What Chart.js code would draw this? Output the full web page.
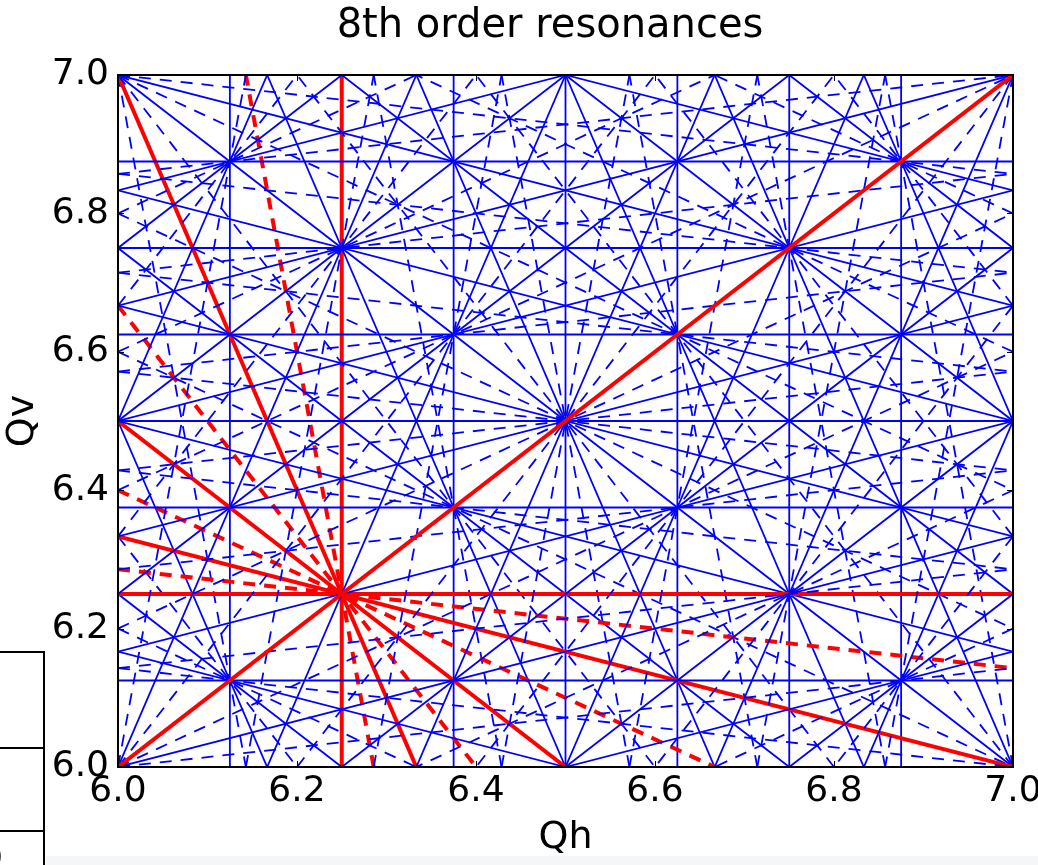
<!DOCTYPE html>
<html>
<head>
<meta charset="utf-8">
<title>8th order resonances</title>
<script src="https://cdn.jsdelivr.net/npm/chart.js@4.4.1/dist/chart.umd.min.js"></script>
<style>
  body { margin: 0; background: #fff; font-family: "DejaVu Sans", sans-serif; }
  #wrap { position: relative; width: 1038px; height: 865px; overflow: hidden; }
  #title { position: absolute; top: 3px; left: 550px; transform: translateX(-50%);
           font-size: 40px; line-height: 40px; white-space: nowrap; color: #000; }
  .rule { position: absolute; background: #000; }
  #paren { position: absolute; left: -9px; top: 836px; font-size: 32px; color: #000; }
  #band { position: absolute; left: 46px; top: 856px; width: 992px; height: 9px; background: #f5f6f8; }
</style>
</head>
<body>
<div id="wrap">
  <canvas id="myChart"></canvas>
  <div id="title">8th order resonances</div>
  <div class="rule" style="left:0;top:651px;width:45px;height:2px"></div>
  <div class="rule" style="left:0;top:747px;width:45px;height:2px"></div>
  <div class="rule" style="left:0;top:830px;width:45px;height:2px"></div>
  <div class="rule" style="left:43px;top:651px;width:2px;height:214px"></div>
  <div id="paren">)</div>
  <div id="band"></div>
</div>
<script>
// tune window
var qhLimits = [6.0, 7.0];
var qvLimits = [6.0, 7.0];

// resonance m*Qh + n*Qv = p with |m|+|n| = 8
var coeffH = [4, 1, 2, 3, 5, 6, 7, 0, 1, 2, 3, 4, 5, 6, 7, 8];
var coeffV = [-4, -7, -6, -5, -3, -2, -1, 8, 7, 6, 5, 4, 3, 2, 1, 0];

// lines drawn in red
var redH = [8, 0, 4, 4, 6, 2, 7, 1, 5, 3];
var redV = [0, 8, 4, -4, 2, 6, 1, 7, 3, 5];
var redP = [50, 50, 50, 0, 50, 50, 50, 50, 50, 50];

var tickValues = [6.0, 6.2, 6.4, 6.6, 6.8, 7.0];

function isRed(m, n, p) {
  for (var i = 0; i < redH.length; i++) {
    if (redH[i] === m && redV[i] === n && redP[i] === p) return true;
  }
  return false;
}

// where the line m*x + n*y = p crosses the tune box
function clipLine(m, n, p) {
  var pts = [];
  var eps = 1e-9;
  function add(x, y) {
    if (x < qhLimits[0] - eps || x > qhLimits[1] + eps) return;
    if (y < qvLimits[0] - eps || y > qvLimits[1] + eps) return;
    for (var k = 0; k < pts.length; k++) {
      if (Math.abs(pts[k].x - x) < 1e-7 && Math.abs(pts[k].y - y) < 1e-7) return;
    }
    pts.push({x: x, y: y});
  }
  if (n !== 0) {
    add(qhLimits[0], (p - m * qhLimits[0]) / n);
    add(qhLimits[1], (p - m * qhLimits[1]) / n);
  }
  if (m !== 0) {
    add((p - n * qvLimits[0]) / m, qvLimits[0]);
    add((p - n * qvLimits[1]) / m, qvLimits[1]);
  }
  return pts.length >= 2 ? pts.slice(0, 2) : null;
}

var datasets = [];
for (var i = 0; i < coeffH.length; i++) {
  var m = coeffH[i], n = coeffV[i];
  var corners = [
    m * qhLimits[0] + n * qvLimits[0], m * qhLimits[1] + n * qvLimits[0],
    m * qhLimits[0] + n * qvLimits[1], m * qhLimits[1] + n * qvLimits[1]
  ];
  var pLo = Math.ceil(Math.min.apply(null, corners) - 1e-9);
  var pHi = Math.floor(Math.max.apply(null, corners) + 1e-9);
  for (var p = pLo; p <= pHi; p++) {
    var seg = clipLine(m, n, p);
    if (!seg) continue;
    var red = isRed(m, n, p);
    datasets.push({
      data: seg,
      showLine: true,
      borderColor: red ? '#ff0000' : '#0000ff',
      borderWidth: red ? 4 : 1.8,
      borderDash: (Math.abs(n) % 2 === 1) ? [12, 9] : [],
      pointRadius: 0,
      fill: false
    });
  }
}

var frameTicks = {
  id: 'frameTicks',
  afterDatasetsDraw: function(chart) {
    var ctx = chart.ctx, a = chart.chartArea;
    var xs = chart.scales.x, ys = chart.scales.y;
    ctx.save();
    ctx.strokeStyle = '#000';
    ctx.lineWidth = 1;
    ctx.beginPath();
    tickValues.forEach(function(v) {
      var px = Math.round(xs.getPixelForValue(v)) + 0.5;
      ctx.moveTo(px, a.bottom); ctx.lineTo(px, a.bottom - 6);
      ctx.moveTo(px, a.top); ctx.lineTo(px, a.top + 6);
      var py = Math.round(ys.getPixelForValue(v)) + 0.5;
      ctx.moveTo(a.left, py); ctx.lineTo(a.left + 6, py);
      ctx.moveTo(a.right, py); ctx.lineTo(a.right - 6, py);
    });
    ctx.stroke();
    ctx.lineWidth = 2;
    ctx.strokeRect(a.left, a.top, a.right - a.left, a.bottom - a.top);
    ctx.restore();
  }
};

function setTicks(scale) {
  scale.ticks = tickValues.map(function(v) { return {value: v}; });
}

var tickFont = {family: 'DejaVu Sans', size: 36, lineHeight: 1.2};
var labelFont = {family: 'DejaVu Sans', size: 38, lineHeight: 1.2};

var ctx = document.getElementById('myChart');
var myChart = new Chart(ctx, {
  type: 'scatter',
  data: {datasets: datasets},
  plugins: [frameTicks],
  options: {
    responsive: true,
    maintainAspectRatio: false,
    animation: false,
    events: [],
    layout: {padding: {top: 75, right: 25, bottom: 0, left: 0}},
    plugins: {legend: {display: false}, tooltip: {enabled: false}, title: {display: false}},
    scales: {
      x: {
        type: 'linear', min: qhLimits[0], max: qhLimits[1],
        afterBuildTicks: setTicks,
        afterFit: function(scale) { scale.height = 98; scale.paddingLeft = 0; scale.paddingRight = 0; },
        grid: {display: false, drawTicks: false},
        border: {display: false},
        ticks: {color: '#000', font: tickFont, padding: 3, maxRotation: 0,
                callback: function(v) { return v.toFixed(1); }},
        title: {display: true, text: 'Qh', color: '#000', font: labelFont, padding: {top: 0, bottom: 4}}
      },
      y: {
        type: 'linear', min: qvLimits[0], max: qvLimits[1],
        afterBuildTicks: setTicks,
        afterFit: function(scale) { scale.width = 118; scale.paddingTop = 0; scale.paddingBottom = 0; },
        grid: {display: false, drawTicks: false},
        border: {display: false},
        ticks: {color: '#000', font: tickFont, padding: 9,
                callback: function(v) { return v.toFixed(1); }},
        title: {display: true, text: 'Qv', color: '#000', font: labelFont, padding: {top: 0, bottom: 0}}
      }
    }
  }
});
</script>
</body>
</html>
